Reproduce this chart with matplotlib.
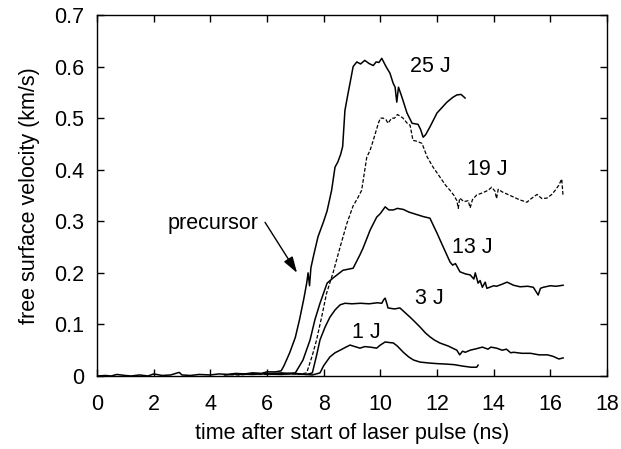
#!/usr/bin/env python3
"""Free surface velocity traces after the laser pulse, five pulse energies."""

import matplotlib

matplotlib.use("Agg")
import matplotlib.pyplot as plt

# 25 J (solid)
t_25 = [0.0, 0.3, 0.5, 0.7, 1.0, 1.2, 1.5, 1.8, 2.0, 2.3, 2.6, 2.9, 3.0, 3.3,
        3.6, 4.0, 4.3, 4.6, 4.9, 5.2, 5.5, 5.8, 6.0, 6.3, 6.5, 6.6, 6.8, 7.0,
        7.15, 7.3, 7.4, 7.45, 7.5, 7.55, 7.65, 7.8, 8.0, 8.12, 8.2, 8.28, 8.4,
        8.5, 8.6, 8.67, 8.75, 8.85, 8.93, 9.04, 9.17, 9.3, 9.45, 9.6, 9.75,
        9.85, 9.95, 10.05, 10.2, 10.34, 10.45, 10.52, 10.58, 10.64, 10.76,
        10.94, 11.12, 11.33, 11.42, 11.51, 11.6, 11.75, 12.0, 12.2, 12.35,
        12.55, 12.7, 12.85, 12.99]
v_25 = [0.0, 0.001, 0.0, 0.003, 0.001, 0.0, 0.002, 0.0, 0.004, 0.001, 0.002,
        0.007, 0.002, 0.001, 0.003, 0.002, 0.004, 0.003, 0.005, 0.004, 0.006,
        0.005, 0.008, 0.008, 0.01, 0.02, 0.045, 0.075, 0.11, 0.15, 0.18, 0.2,
        0.175, 0.21, 0.235, 0.27, 0.3, 0.32, 0.34, 0.36, 0.405, 0.415, 0.43,
        0.445, 0.515, 0.545, 0.568, 0.6, 0.609, 0.605, 0.612, 0.606, 0.602,
        0.609, 0.608, 0.616, 0.6, 0.587, 0.568, 0.56, 0.531, 0.56, 0.541,
        0.51, 0.49, 0.488, 0.478, 0.463, 0.468, 0.483, 0.51, 0.522, 0.531,
        0.54, 0.545, 0.546, 0.539]

# 19 J (dashed)
t_19 = [4.5, 5.0, 5.5, 6.0, 6.5, 7.0, 7.2, 7.4, 7.6, 7.75, 7.95, 8.1, 8.33,
        8.58, 8.82, 9.04, 9.2, 9.34, 9.52, 9.64, 9.75, 9.93, 10.0, 10.1, 10.2,
        10.27, 10.4, 10.5, 10.6, 10.7, 10.8, 10.95, 11.05, 11.15, 11.3, 11.47,
        11.65, 11.86, 12.1, 12.3, 12.46, 12.6, 12.7, 12.75, 12.8, 12.95, 13.1,
        13.17, 13.25, 13.4, 13.6, 13.8, 13.93, 14.05, 14.1, 14.16, 14.3, 14.5,
        14.7, 14.9, 15.17, 15.35, 15.53, 15.7, 15.88, 16.05, 16.17, 16.3,
        16.4, 16.45]
v_19 = [0.003, 0.002, 0.004, 0.003, 0.005, 0.004, 0.004, 0.006, 0.04, 0.07,
        0.12, 0.16, 0.2, 0.25, 0.296, 0.33, 0.345, 0.36, 0.424, 0.438, 0.457,
        0.49, 0.5, 0.5, 0.497, 0.49, 0.5, 0.5, 0.507, 0.504, 0.5, 0.49, 0.486,
        0.457, 0.455, 0.451, 0.425, 0.405, 0.386, 0.37, 0.36, 0.35, 0.34,
        0.325, 0.345, 0.338, 0.34, 0.326, 0.342, 0.351, 0.355, 0.36, 0.366,
        0.358, 0.344, 0.362, 0.357, 0.352, 0.347, 0.342, 0.337, 0.345, 0.352,
        0.344, 0.345, 0.352, 0.36, 0.37, 0.382, 0.348]

# 13 J (solid)
t_13 = [4.5, 5.0, 5.5, 6.0, 6.5, 7.0, 7.27, 7.52, 7.69, 7.87, 8.12, 8.33,
        8.68, 9.04, 9.28, 9.39, 9.64, 9.87, 10.0, 10.17, 10.3, 10.46, 10.6,
        10.81, 11.0, 11.17, 11.52, 11.75, 12.0, 12.22, 12.46, 12.55, 12.65,
        12.81, 13.0, 13.17, 13.3, 13.35, 13.45, 13.52, 13.6, 13.7, 13.76,
        14.0, 14.1, 14.3, 14.47, 14.7, 14.93, 15.2, 15.4, 15.57, 15.65, 15.75,
        16.0, 16.2, 16.45]
v_13 = [0.002, 0.004, 0.003, 0.005, 0.004, 0.006, 0.031, 0.07, 0.109, 0.141,
        0.18, 0.19, 0.205, 0.209, 0.235, 0.248, 0.283, 0.308, 0.315, 0.328,
        0.322, 0.322, 0.325, 0.323, 0.318, 0.315, 0.309, 0.306, 0.277, 0.25,
        0.221, 0.215, 0.218, 0.202, 0.198, 0.196, 0.188, 0.2, 0.18, 0.185,
        0.172, 0.182, 0.17, 0.175, 0.174, 0.178, 0.182, 0.176, 0.173, 0.174,
        0.172, 0.157, 0.17, 0.172, 0.175, 0.174, 0.176]

# 3 J (solid)
t_3 = [5.0, 5.5, 6.0, 6.5, 7.0, 7.4, 7.6, 7.75, 7.87, 8.05, 8.22, 8.4, 8.58,
       8.75, 9.0, 9.3, 9.6, 9.9, 10.05, 10.12, 10.17, 10.22, 10.27, 10.5,
       10.69, 10.85, 11.05, 11.2, 11.4, 11.6, 11.75, 11.9, 12.1, 12.4, 12.7,
       12.8, 12.9, 13.0, 13.17, 13.4, 13.6, 13.8, 13.9, 14.1, 14.3, 14.45,
       14.6, 14.7, 15.0, 15.3, 15.6, 15.9, 16.1, 16.3, 16.45]
v_3 = [0.003, 0.005, 0.004, 0.006, 0.004, 0.003, 0.006, 0.04, 0.07, 0.095,
       0.114, 0.128, 0.138, 0.141, 0.14, 0.141, 0.14, 0.142, 0.141, 0.148,
       0.151, 0.142, 0.132, 0.13, 0.132, 0.124, 0.114, 0.106, 0.095, 0.083,
       0.076, 0.07, 0.064, 0.058, 0.05, 0.041, 0.048, 0.046, 0.05, 0.053,
       0.056, 0.052, 0.056, 0.054, 0.05, 0.052, 0.045, 0.046, 0.044, 0.044,
       0.041, 0.041, 0.038, 0.033, 0.035]

# 1 J (solid)
t_1 = [6.0, 6.5, 7.0, 7.6, 7.87, 8.0, 8.22, 8.4, 8.58, 8.75, 8.93, 9.1, 9.28,
       9.45, 9.64, 9.87, 10.0, 10.17, 10.3, 10.46, 10.6, 10.81, 11.0, 11.17,
       11.4, 11.75, 12.0, 12.35, 12.6, 12.93, 13.2, 13.4, 13.45]
v_1 = [0.004, 0.003, 0.005, 0.002, 0.006, 0.02, 0.037, 0.045, 0.05, 0.055,
       0.06, 0.057, 0.054, 0.057, 0.056, 0.054, 0.06, 0.066, 0.065, 0.064,
       0.058, 0.046, 0.037, 0.031, 0.027, 0.025, 0.024, 0.023, 0.022, 0.019,
       0.017, 0.017, 0.021]

# energy labels and where they sit (ns, km/s)
labels = ["25 J", "19 J", "13 J", "3 J", "1 J"]
label_x = [11.75, 13.77, 13.24, 11.72, 9.52]
label_y = [0.600, 0.400, 0.250, 0.151, 0.085]

# precursor note: text centre, arrow tail and arrow tip
precursor_text = (4.1, 0.295)
precursor_tail = (5.93, 0.298)
precursor_tip = (7.06, 0.2)

x_ticks = [0, 2, 4, 6, 8, 10, 12, 14, 16, 18]
y_ticks = [0, 0.1, 0.2, 0.3, 0.4, 0.5, 0.6, 0.7]
y_tick_labels = ["0", "0.1", "0.2", "0.3", "0.4", "0.5", "0.6", "0.7"]


def main():
    plt.rcParams["font.family"] = ["Liberation Sans", "DejaVu Sans"]
    plt.rcParams["font.size"] = 15.5

    fig = plt.figure(figsize=(6.21, 4.49), dpi=100)
    ax = fig.add_axes([0.1562, 0.1626, 0.8213, 0.804])

    lw = 1.1
    ax.plot(t_25, v_25, color="black", linewidth=lw)
    ax.plot(t_19, v_19, color="black", linewidth=0.9, linestyle=(0, (3, 1.5)))
    ax.plot(t_13, v_13, color="black", linewidth=lw)
    ax.plot(t_3, v_3, color="black", linewidth=lw)
    ax.plot(t_1, v_1, color="black", linewidth=lw)

    for text, x, y in zip(labels, label_x, label_y):
        ax.text(x, y, text, ha="center", va="center")

    ax.text(*precursor_text, "precursor", ha="center", va="center")
    ax.annotate("", xy=precursor_tip, xytext=precursor_tail,
                arrowprops=dict(arrowstyle="-|>,head_length=0.7,head_width=0.22",
                                color="black", lw=1.0, mutation_scale=14,
                                shrinkA=0, shrinkB=0))

    ax.set_xlim(0, 18)
    ax.set_ylim(0, 0.7)
    ax.set_xticks(x_ticks)
    ax.set_yticks(y_ticks)
    ax.set_yticklabels(y_tick_labels)
    ax.tick_params(direction="in", top=True, right=True, length=5, width=1.0)
    ax.tick_params(axis="y", pad=9)
    ax.tick_params(axis="x", pad=13)
    for spine in ax.spines.values():
        spine.set_linewidth(1.0)

    ax.set_xlabel("time after start of laser pulse (ns)", labelpad=6)
    ax.set_ylabel("free surface velocity (km/s)", labelpad=10)

    fig.savefig("out.png", dpi=100)


if __name__ == "__main__":
    main()
